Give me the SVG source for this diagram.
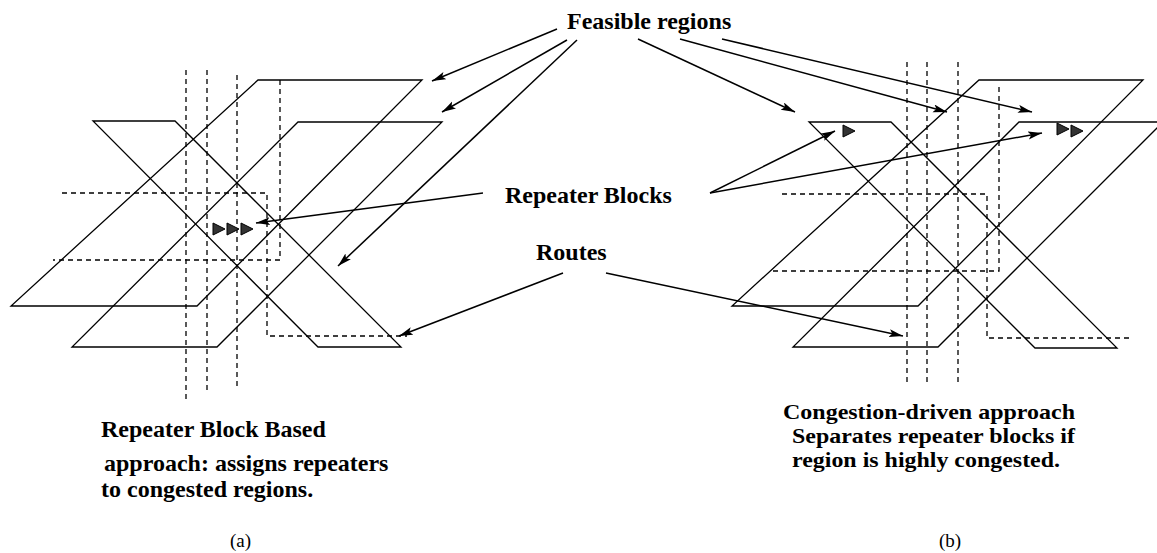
<svg xmlns="http://www.w3.org/2000/svg" width="1157" height="553" viewBox="0 0 1157 553">
  <style>
    .region { fill: none; stroke: #000; stroke-width: 1.3; stroke-linejoin: miter; }
    .route { fill: none; stroke: #000; stroke-width: 1.3; stroke-dasharray: 5 4; }
    .rep { fill: #333; stroke: #000; stroke-width: 1; stroke-linejoin: round; }
    .arrow { fill: none; stroke: #000; stroke-width: 1.5; marker-end: url(#head); }
    .label { font-family: "Liberation Serif", "Times New Roman", serif; font-weight: bold; font-size: 24px; fill: #000; }
    .note { font-family: "Liberation Serif", "Times New Roman", serif; font-weight: bold; font-size: 21px; fill: #000; }
    .tag { font-family: "Liberation Serif", "Times New Roman", serif; font-size: 19px; fill: #000; }
  </style>
  <defs>
    <marker id="head" markerUnits="userSpaceOnUse" markerWidth="16" markerHeight="10" refX="14" refY="4" orient="auto">
      <path d="M0,0 L14,4 L0,8 L3,4 z" fill="#000"/>
    </marker>
    <path id="tri" d="M0,0 L12,6 L0,12 z"/>
  </defs>

  <!-- (a) repeater block based approach -->
  <g id="fig-a">
    <g id="a-regions">
      <polygon class="region" points="11,306 197,306 422,80 258,80"/>
      <polygon class="region" points="72,347 217,347 442,122 298,122"/>
      <polygon class="region" points="93,121 175,121 401,347 318,347"/>
    </g>
    <g id="a-routes">
      <line class="route" x1="186" y1="70" x2="186" y2="400"/>
      <line class="route" x1="207" y1="70" x2="207" y2="393"/>
      <line class="route" x1="237" y1="75" x2="237" y2="388"/>
      <polyline class="route" points="62,193 267,193 267,336 407,336"/>
      <polyline class="route" points="280,80 280,260 53,260"/>
    </g>
    <g id="a-repeaters">
      <use href="#tri" class="rep" x="213" y="223"/>
      <use href="#tri" class="rep" x="227" y="223"/>
      <use href="#tri" class="rep" x="241" y="223"/>
    </g>
  </g>

  <!-- (b) congestion-driven approach -->
  <g id="fig-b">
    <g id="b-regions">
      <polygon class="region" points="732,306 918,306 1143,80 979,80"/>
      <polygon class="region" points="793,347 938,347 1163,122 1019,122"/>
      <polygon class="region" points="809,122 891,122 1117,348 1035,348"/>
    </g>
    <g id="b-routes">
      <line class="route" x1="907" y1="62" x2="907" y2="386"/>
      <line class="route" x1="927" y1="62" x2="927" y2="386"/>
      <line class="route" x1="958" y1="62" x2="958" y2="386"/>
      <polyline class="route" points="782,194 987,194 987,338 1132,338"/>
      <polyline class="route" points="999,87 999,271 772,271"/>
    </g>
    <g id="b-repeaters">
      <use href="#tri" class="rep" x="843" y="125"/>
      <use href="#tri" class="rep" x="1057" y="123"/>
      <use href="#tri" class="rep" x="1071" y="125"/>
    </g>
  </g>

  <!-- callout labels -->
  <g id="label-feasible"><text class="label" x="567" y="29">Feasible regions</text></g>
  <g id="label-repeater"><text class="label" x="505" y="203">Repeater Blocks</text></g>
  <g id="label-routes"><text class="label" x="536" y="260">Routes</text></g>

  <!-- connectors from the labels -->
  <g id="connectors">
    <line class="arrow" x1="557" y1="29" x2="432" y2="81"/>
    <line class="arrow" x1="567" y1="40" x2="442" y2="112"/>
    <line class="arrow" x1="577" y1="40" x2="338" y2="266"/>
    <line class="arrow" x1="638" y1="39" x2="795" y2="112"/>
    <line class="arrow" x1="680" y1="39" x2="947" y2="112"/>
    <line class="arrow" x1="722" y1="39" x2="1032" y2="112"/>
    <line class="arrow" x1="483" y1="193" x2="256" y2="223"/>
    <line class="arrow" x1="710" y1="193" x2="835" y2="131"/>
    <line class="arrow" x1="710" y1="193" x2="1042" y2="133"/>
    <line class="arrow" x1="563" y1="273" x2="399" y2="336"/>
    <line class="arrow" x1="606" y1="273" x2="903" y2="336"/>
  </g>

  <!-- captions -->
  <g id="caption-a">
    <text class="label" x="101" y="437">Repeater Block Based</text>
    <text class="label" x="104" y="471">approach: assigns repeaters</text>
    <text class="label" x="101" y="497">to congested regions.</text>
    <text class="tag" x="230" y="547">(a)</text>
  </g>
  <g id="caption-b">
    <text class="note" x="783" y="419" textLength="292" lengthAdjust="spacingAndGlyphs">Congestion-driven approach</text>
    <text class="note" x="792" y="443" textLength="283" lengthAdjust="spacingAndGlyphs">Separates repeater blocks if</text>
    <text class="note" x="792" y="467" textLength="268" lengthAdjust="spacingAndGlyphs">region is highly congested.</text>
    <text class="tag" x="939" y="547">(b)</text>
  </g>
</svg>
